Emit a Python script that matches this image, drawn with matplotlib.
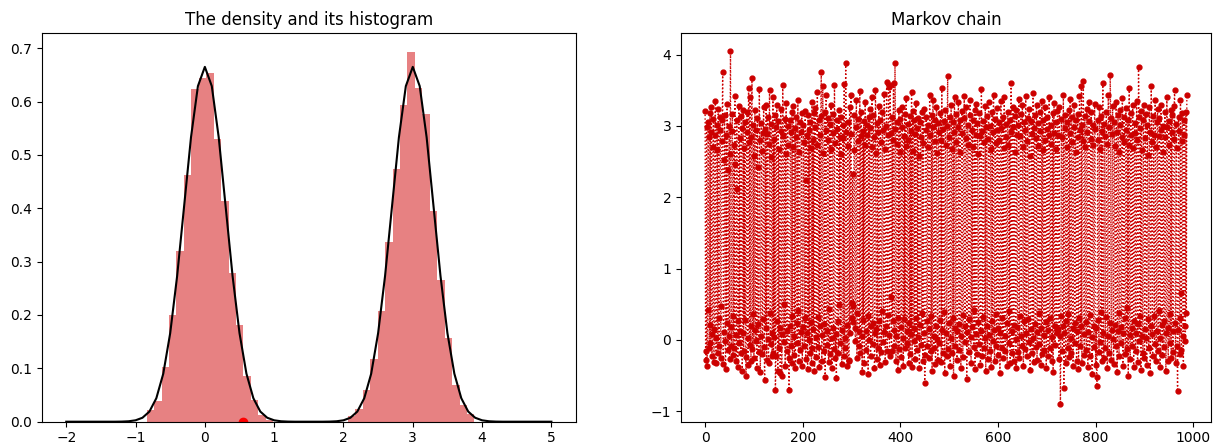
import numpy as np
import matplotlib
matplotlib.use("Agg")
import matplotlib.pyplot as plt

# histograma: 44 bins de ancho 0.1075 desde -0.84
hist_start = -0.84
bin_width = 0.1075
hist_heights = [0.021, 0.039, 0.102, 0.200, 0.319, 0.463, 0.623, 0.645, 0.653, 0.530,
                0.414, 0.278, 0.182, 0.086, 0.041, 0.013, 0.004, 0.0, 0.0, 0.0,
                0.0, 0.0, 0.0, 0.0, 0.0, 0.0, 0.0, 0.011, 0.023, 0.060,
                0.118, 0.208, 0.336, 0.474, 0.593, 0.693, 0.625, 0.576, 0.394, 0.265,
                0.156, 0.069, 0.031, 0.014]

# densidad (curva negra)
dens_x = [-2.0, -1.9, -1.8, -1.7, -1.6, -1.5, -1.4, -1.3, -1.2, -1.1, -1.0, -0.9, -0.8,
          -0.7, -0.6, -0.5, -0.4, -0.3, -0.2, -0.1, 0.0, 0.1, 0.2, 0.3, 0.4, 0.5, 0.6,
          0.7, 0.8, 0.9, 1.0, 1.1, 1.2, 1.3, 1.4, 1.5, 1.6, 1.7, 1.8, 1.9, 2.0, 2.1,
          2.2, 2.3, 2.4, 2.5, 2.6, 2.7, 2.8, 2.9, 3.0, 3.1, 3.2, 3.3, 3.4, 3.5, 3.6,
          3.7, 3.8, 3.9, 4.0, 4.1, 4.2, 4.3, 4.4, 4.5, 4.6, 4.7, 4.8, 4.9, 5.0]
dens_y = [0.0, 0.0, 0.0, 0.0, 0.0, 0.0, 0.0, 0.0, 0.0002, 0.0008, 0.0026, 0.0074, 0.019,
          0.044, 0.090, 0.166, 0.273, 0.403, 0.533, 0.629, 0.665, 0.629, 0.533, 0.403, 0.273, 0.166, 0.090,
          0.044, 0.019, 0.0074, 0.0026, 0.0008, 0.0002, 0.0, 0.0, 0.0, 0.0, 0.0, 0.0002, 0.0008, 0.0026, 0.0074,
          0.019, 0.044, 0.090, 0.166, 0.273, 0.403, 0.533, 0.629, 0.665, 0.629, 0.533, 0.403, 0.273, 0.166, 0.090,
          0.044, 0.019, 0.0074, 0.0026, 0.0008, 0.0002, 0.0, 0.0, 0.0, 0.0, 0.0, 0.0, 0.0, 0.0]

current_x = 0.55

# cadena de Markov
chain = [
    3.21, -0.15, -0.28, 2.98, -0.36, 0.42, 3.05, 2.84, -0.12, 0.21, 3.18, -0.05, 2.92, 3.26, -0.22, 0.08, 2.71, 3.10, -0.31, 0.15,
    2.88, 3.35, -0.33, 0.02, 3.02, 2.66, -0.18, 3.24, 0.31, -0.09, 2.95, 3.12, -0.26, 0.47, 2.79, 3.08, 3.76, -0.34, 0.11, 2.52,
    3.15, -0.02, -0.41, 2.87, 0.24, 3.31, 2.38, -0.14, 0.05, 3.00, -0.27, 2.61, 4.05, 0.18, -0.08, 2.93, 3.17, -0.21, 0.33, 2.74,
    -0.11, 3.42, 2.46, 0.07, -0.29, 3.09, 2.12, -0.38, 0.26, 3.28, -0.04, 2.83, 0.12, -0.19, 3.14, 2.97, -0.43, 0.09, 3.22, -0.16,
    2.69, 0.28, 3.06, -0.24, -0.51, 2.91, 3.19, 0.03, -0.35, 3.53, 2.77, -0.07, 3.40, 0.19, -0.30, 2.85, 3.67, -0.13, 0.36, 3.01,
    -0.25, 2.58, 3.23, 0.14, -0.02, 2.94, -0.39, 3.11, 2.42, 0.22, -0.17, 3.52, 2.81, -0.45, 0.06, 3.04, 2.65, -0.20, 0.29, 2.90,
    3.27, -0.10, -0.56, 2.96, 0.17, 3.30, -0.28, 2.89, 3.13, 0.01, -0.33, 2.75, 3.51, 0.38, -0.06, 3.03, 2.56, -0.22, 0.10, 3.41,
    -0.18, 2.82, 0.04, 3.16, -0.70, -0.23, 2.99, 3.29, 0.27, -0.44, 3.07, -0.12, 2.68, 0.16, -0.47, 3.24, 2.93, -0.50, 0.08, 3.58,
    2.86, -0.03, 0.51, 3.10, -0.37, 2.60, 3.32, 0.13, -0.15, 3.00, 2.74, -0.26, -0.70, 0.20, 3.08, 2.91, -0.09, 0.34, 3.19, -0.32,
    2.70, 3.28, 0.06, -0.21, 2.97, -0.40, 3.12, 2.84, 0.23, -0.05, 3.36, 0.41, -0.30, 2.64, 3.05, -0.14, 0.11, 2.92, 3.18, -0.36,
    0.18, 3.02, 2.78, -0.08, 0.30, 3.21, -0.27, 2.24, 2.88, 0.09, -0.41, 3.15, 0.00, 2.95, -0.19, 3.06, 2.69, 0.25, -0.33, 3.34,
    -0.12, 2.81, 0.15, 3.18, -0.44, 2.99, 3.25, 0.04, -0.24, 2.73, 3.47, -0.10, 0.32, 3.09, -0.38, 2.87, 0.19, 3.14, 3.76, -0.29,
    0.07, 3.56, 2.62, -0.16, 0.22, 3.20, -0.52, 2.94, 3.43, 0.12, -0.07, 3.11, 2.80, -0.31, 0.44, 3.03, -0.20, 2.67, 3.29, 0.02,
    -0.40, 2.90, 3.17, 0.17, -0.13, 3.57, 2.76, -0.25, 0.08, -0.53, 3.08, 2.96, 0.27, -0.18, 3.22, 0.49, 2.85, -0.04, 3.13, 2.60,
    -0.34, 0.14, 3.01, 2.83, -0.22, 3.59, 0.03, -0.11, 3.88, 2.92, 0.21, -0.37, 3.05, 2.72, -0.28, -0.29, 3.26, 0.10, 2.89, 3.44,
    0.52, 0.31, 2.33, 0.47, 0.25, 3.15, 2.66, 0.16, -0.02, 2.98, 3.36, -0.26, 0.37, 3.10, 2.79, -0.08, 0.12, 3.49, -0.19, 2.86,
    3.20, 0.05, -0.45, 2.93, 0.28, 3.07, -0.32, 2.74, 3.33, 0.13, -0.14, 3.02, 2.88, 0.34, -0.48, 3.12, 0.00, 2.97, 3.24, -0.23,
    0.19, 2.70, 3.41, -0.06, 0.24, 3.16, 2.84, -0.39, 0.09, 3.50, 2.62, 0.15, -0.27, 3.04, -0.12, 2.91, 3.28, 0.26, -0.35, 3.09,
    2.78, -0.17, 0.40, 3.19, 2.95, -0.03, 0.11, 3.45, 2.68, -0.31, 0.20, 3.00, 3.62, -0.15, 0.35, 2.87, 3.54, 0.07, -0.22, 3.58,
    2.90, 0.60, -0.16, 3.13, 0.27, 2.81, 3.60, -0.09, 0.14, 3.89, 2.96, -0.29, 0.05, 3.05, 2.75, -0.42, 0.31, 3.22, -0.13, 2.63,
    3.10, 0.18, -0.24, 2.99, 3.27, 0.02, -0.36, 2.86, 0.29, 3.17, -0.11, 2.72, 3.39, 0.12, -0.05, 3.03, 2.80, -0.33, 0.23, 3.14,
    -0.20, 2.93, 0.08, 3.48, -0.38, 2.65, 3.21, 0.16, -0.01, 3.08, -0.27, 2.89, 3.32, 0.30, -0.14, 2.97, 0.04, 3.11, 2.58, -0.40,
    0.21, 3.06, 2.84, -0.07, 0.37, 3.19, -0.30, 2.76, 3.24, 0.10, -0.60, -0.21, 2.94, 3.12, 0.26, -0.09, 3.01, 2.70, -0.25, 0.15,
    3.44, 2.87, -0.16, 0.33, 3.15, -0.43, 2.98, 3.37, 0.06, -0.12, 2.79, 3.09, -0.34, 0.19, 3.26, 2.62, 0.01, -0.28, 3.04, 2.91,
    -0.05, 0.28, 3.18, 2.81, -0.31, 3.53, 0.14, -0.18, 2.96, 3.07, 0.39, -0.46, 3.22, 2.73, 0.09, -0.22, 3.00, 3.70, -0.13, 0.24,
    2.85, 3.13, -0.37, 0.03, 3.29, 2.68, -0.19, 0.31, 3.05, -0.50, 2.92, 3.40, 0.17, -0.08, 3.17, 2.77, -0.28, 0.13, 2.99, 3.34,
    0.22, -0.14, 3.08, 2.64, -0.39, 0.06, 3.21, 2.90, -0.24, 0.35, 3.11, 3.42, -0.03, 0.20, 2.83, 3.26, -0.55, 0.11, 3.02, 2.74,
    -0.17, 0.29, 3.16, 3.36, 0.04, -0.32, 2.95, 0.18, 3.09, 2.71, -0.10, 0.42, 3.23, -0.41, 2.88, 3.31, 0.08, -0.20, 3.04, 2.61,
    0.25, -0.06, 3.18, 2.86, -0.35, 0.12, 3.52, 2.93, -0.23, 0.32, 3.07, 2.78, -0.12, 0.02, 3.28, -0.44, 2.98, 3.14, 0.19, -0.27,
    2.82, 3.33, 0.07, -0.16, 3.00, 2.67, -0.38, 0.27, 3.19, -0.02, 2.91, 3.43, 0.14, -0.30, 3.10, 2.76, 0.36, -0.09, 3.25, 2.94,
    -0.21, 0.16, 3.06, 2.80, -0.47, 0.09, 3.35, 2.97, -0.11, 0.30, 3.12, -0.26, 2.69, 3.41, 0.05, -0.15, 3.03, 2.85, 0.23, -0.36,
    3.20, 2.73, -0.04, 0.40, 3.09, -0.33, 2.92, 3.60, 0.13, -0.19, 2.98, 3.27, -0.29, 0.21, 3.14, 2.64, 0.01, -0.40, 3.23, 2.88,
    0.18, -0.17, 3.01, 3.38, -0.25, 0.34, 2.86, 3.17, 0.06, -0.08, 3.29, 2.70, -0.37, 0.26, 3.05, -0.13, 2.95, 3.42, 0.10, -0.22,
    2.79, 3.11, 0.29, -0.03, 3.24, 2.58, -0.42, 0.15, 3.07, 2.89, -0.18, 0.03, 3.46, -0.31, 2.97, 3.16, 0.22, -0.10, 2.83, 3.30,
    -0.28, 0.11, 3.04, 2.72, -0.06, 0.38, 3.19, 2.93, -0.35, 0.17, 3.35, -0.20, 2.66, 3.09, 0.07, -0.14, 3.27, 2.81, 0.25, -0.39,
    3.13, 2.96, 0.14, -0.22, 2.87, 3.40, -0.12, 0.31, 3.02, 2.75, -0.30, 0.04, 3.18, -0.45, 2.90, 3.32, 0.19, -0.07, 3.06, 2.68,
    0.12, 0.09, 3.21, 2.88, 0.15, -0.27, 3.27, 0.05, -0.90, 0.33, 3.10, 2.84, -0.16, 0.20, 3.44, -0.68, 0.10, 2.97, 3.15, -0.33,
    0.27, 3.05, 2.71, -0.11, 0.36, 3.23, -0.24, 2.90, 3.38, 0.02, -0.18, 3.12, 2.77, 0.16, -0.37, 2.99, 3.29, -0.05, 0.24, 3.08,
    2.63, -0.29, 0.13, 3.17, 2.85, -0.41, 0.30, 3.42, 2.94, -0.08, 0.19, 3.56, -0.33, 3.01, 2.79, 3.63, 0.08, -0.21, 3.14, 2.70,
    0.25, -0.14, 3.24, 2.92, -0.38, 0.11, 3.07, 3.34, -0.23, 0.35, 2.82, 3.19, 0.04, -0.48, 3.02, 2.74, 0.20, -0.10, 3.31, 2.96,
    -0.35, 0.17, -0.52, -0.65, 3.09, 2.81, 0.28, -0.17, 3.26, 2.67, -0.03, 0.39, 3.14, -0.30, 2.93, 3.60, 0.10, -0.25, 3.03, 2.86,
    -0.12, 0.32, 3.20, 2.75, -0.40, 0.06, 3.44, 2.98, -0.19, 0.23, 3.72, 3.11, -0.28, 0.14, 2.89, 3.28, 0.01, -0.34, 3.06, 2.72,
    0.21, -0.08, 3.33, 2.91, -0.45, 0.12, 3.16, 2.64, -0.22, 0.37, 3.02, 3.22, -0.05, 0.18, 2.84, 3.39, -0.36, 0.09, 3.12, 2.78,
    0.30, -0.20, 3.25, 2.95, -0.13, 0.45, 3.08, -0.51, 2.73, 3.53, 0.07, -0.27, 3.18, 2.87, 0.16, -0.09, 3.30, 2.69, -0.38, 0.26,
    3.04, 2.90, -0.16, 0.10, 3.35, 2.80, -0.31, 0.22, 3.82, 3.13, -0.02, 0.34, 2.97, -0.42, 3.21, 2.66, 0.05, -0.19, 3.09, 3.29,
    -0.26, 0.15, 2.83, 3.17, 0.03, -0.35, 3.01, 2.59, 0.29, -0.12, 3.26, 2.92, -0.47, 0.19, 3.56, 2.77, 0.08, -0.23, 3.14, 2.88,
    0.33, -0.06, 3.36, 2.71, -0.29, 0.13, 3.05, 3.24, -0.15, 0.40, 2.86, 3.11, -0.38, 0.02, 3.30, 2.94, 0.21, -0.21, 3.00, 2.63,
    -0.10, 0.27, 3.19, 2.85, -0.44, 0.09, 3.41, 2.98, 0.17, -0.30, 3.07, 2.74, -0.04, 0.36, 3.23, -0.26, 2.91, 3.15, 0.12, -0.17,
    2.82, 3.28, 3.51, 0.24, -0.33, 3.03, 2.69, -0.09, -0.72, 0.14, 3.12, 2.93, -0.20, 0.31, 3.37, 0.66, -0.14, 2.79, 3.18, 0.06,
    -0.37, 3.09, 2.87, 0.20, -0.01, 3.20, 0.38, 3.44,
]

fig = plt.figure(figsize=(12.17, 4.46), dpi=100)
ax1 = fig.add_axes([0.0345, 0.0545, 0.4385, 0.8705])
ax2 = fig.add_axes([0.5596, 0.0545, 0.4354, 0.8705])

# panel izquierdo
edges = hist_start + bin_width * np.arange(len(hist_heights))
ax1.bar(edges, hist_heights, width=bin_width, align="edge", color="#d62728", alpha=0.58, linewidth=0)
ax1.plot(dens_x, dens_y, color="black", lw=1.5)
ax1.plot([current_x], [0], "o", color="red", ms=6)
ax1.set_title("The density and its histogram")

# panel derecho
ax2.plot(np.arange(len(chain)), chain, "o:", color="#cc0000", ms=3.5, lw=1)
ax2.set_title("Markov chain")

fig.savefig("out.png", dpi=100)
